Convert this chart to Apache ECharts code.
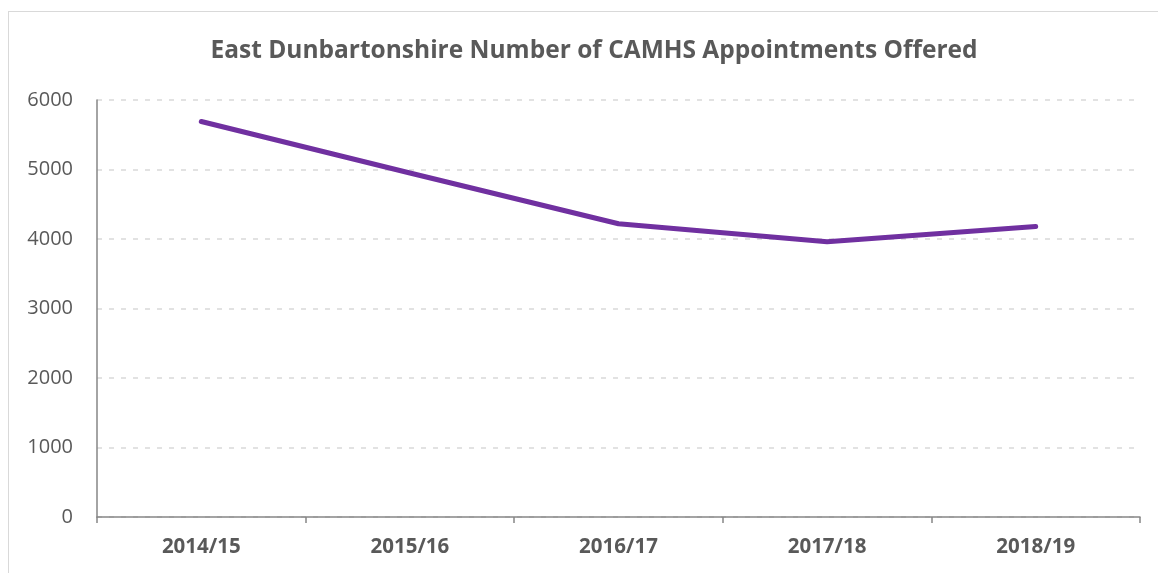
<!DOCTYPE html>
<html>
<head>
<meta charset="utf-8">
<script src="https://cdn.jsdelivr.net/npm/echarts@6/dist/echarts.min.js"></script>
<style>
  html, body { margin: 0; padding: 0; background: #fff; }
  #frame { position: absolute; left: 8px; top: 11px; width: 1160px; height: 580px; border: 1px solid #d9d9d9; }
  #chartLine { position: absolute; left: 0; top: 0; width: 1158px; height: 573px; }
</style>
</head>
<body>
<div id="frame"></div>
<div id="chartLine"></div>
<script>
var years = ['2014/15', '2015/16', '2016/17', '2017/18', '2018/19'];
var appointments = [5690, 4950, 4220, 3960, 4180];

var chartLine = echarts.init(document.getElementById('chartLine'));
chartLine.setOption({
  animation: false,
  title: {
    text: 'East Dunbartonshire Number of CAMHS Appointments Offered',
    left: 589,
    textAlign: 'center',
    top: 34,
    textStyle: {
      fontFamily: 'Open Sans',
      fontWeight: 'bold',
      fontSize: 24.5,
      color: '#595959'
    }
  },
  grid: {
    left: 97,
    right: 18,
    top: 100,
    bottom: 56
  },
  xAxis: {
    type: 'category',
    data: years,
    axisLine: { lineStyle: { color: '#868686', width: 1.5 } },
    axisTick: { show: true, length: 6, lineStyle: { color: '#868686', width: 1.5 } },
    axisLabel: {
      margin: 20,
      fontFamily: 'Open Sans',
      fontWeight: 'bold',
      fontSize: 20.5,
      color: '#595959'
    }
  },
  yAxis: {
    type: 'value',
    min: 0,
    max: 6000,
    interval: 1000,
    axisLine: { show: true, lineStyle: { color: '#868686', width: 1.5 } },
    axisTick: { show: false },
    axisLabel: {
      margin: 24,
      fontFamily: 'Open Sans',
      fontSize: 20,
      color: '#595959',
      formatter: function (v) { return String(v); }
    },
    splitLine: {
      lineStyle: { color: '#d9d9d9', type: [5, 7], width: 1.5 }
    }
  },
  series: [{
    name: 'Appointments',
    type: 'line',
    data: appointments,
    symbol: 'none',
    lineStyle: { color: '#7030a0', width: 5, cap: 'round', join: 'round' }
  }]
});
</script>
</body>
</html>
